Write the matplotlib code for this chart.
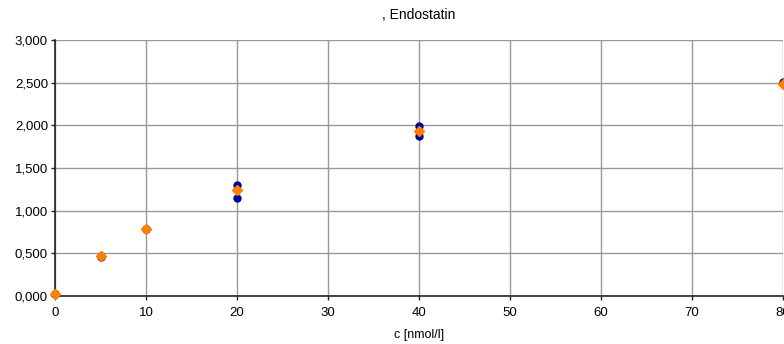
import numpy as np
import matplotlib
matplotlib.use("Agg")
import matplotlib.pyplot as plt

plt.rcParams["font.family"] = ["Liberation Sans", "DejaVu Sans"]

# concentrations [nmol/l]
conc = [0, 5, 10, 20, 40, 80]
# replicate measurements (dark blue circles)
rep_a = [0.02, 0.47, 0.79, 1.30, 1.99, 2.51]
rep_b = [0.02, 0.46, 0.78, 1.15, 1.87, 2.50]
# mean (orange diamonds)
mean = [0.02, 0.47, 0.78, 1.24, 1.93, 2.49]
err = [0.00, 0.01, 0.01, 0.07, 0.06, 0.01]

y_ticks = [0.0, 0.5, 1.0, 1.5, 2.0, 2.5, 3.0]
y_labels = ["{:.3f}".format(v).replace(".", ",") for v in y_ticks]

figure = plt.figure(figsize=(7.84, 3.44), dpi=100)
ax = figure.add_axes([55 / 784, 48 / 344, 728 / 784, 256 / 344])

ax.errorbar(conc, mean, yerr=err, fmt="none", ecolor="#9bb0d8",
            elinewidth=0.8, capsize=2, zorder=3)
ax.plot(conc, rep_a, "o", color="#000099", markersize=5, zorder=4, clip_on=False)
ax.plot(conc, rep_b, "o", color="#000099", markersize=5, zorder=4, clip_on=False)
ax.plot(conc, mean, "D", color="#ff8000", markersize=5, zorder=5, clip_on=False)

ax.set_xlim(0, 80)
ax.set_ylim(0, 3)
ax.set_xticks(range(0, 81, 10))
ax.set_yticks(y_ticks)
ax.set_yticklabels(y_labels)
ax.grid(True, color="#999999", linewidth=1.0)
ax.set_axisbelow(True)
for side in ("top", "right"):
    ax.spines[side].set_visible(False)
for side in ("left", "bottom"):
    ax.spines[side].set_color("#222222")
    ax.spines[side].set_linewidth(1.2)
ax.tick_params(axis="both", labelsize=9.5, length=3, width=1, color="#222222", pad=2)
ax.tick_params(axis="x", pad=5)
ax.set_xlabel("c [nmol/l]", fontsize=9, labelpad=7)
ax.set_title(", Endostatin", fontsize=10, pad=15)

figure.savefig("out.png", dpi=100)
